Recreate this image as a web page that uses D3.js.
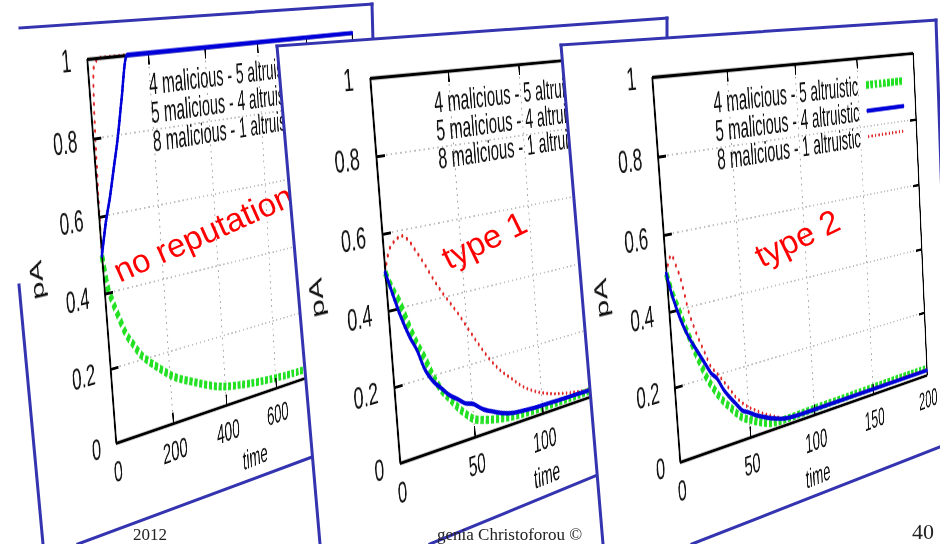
<!DOCTYPE html>
<html>
<head>
<meta charset="utf-8">
<script src="https://cdn.jsdelivr.net/npm/d3@7"></script>
<style>
html, body { margin: 0; padding: 0; background: #fff; }
#page { position: relative; width: 940px; height: 544px; overflow: hidden; background: #fff; }
.layer { position: absolute; left: 0; top: 0; }
.warp { position: absolute; left: 0; top: 0; transform-origin: 0 0; }
</style>
</head>
<body>
<div id="page"></div>
<script>
// ---- data ----
const yTicks = [0, 0.2, 0.4, 0.6, 0.8, 1];
const yTickLabels = ["0", "0.2", "0.4", "0.6", "0.8", "1"];
const legendLabels = ["4 malicious - 5 altruistic", "5 malicious - 4 altruistic", "8 malicious - 1 altruistic"];
const panelTitles = ["no reputation", "type 1", "type 2"];
const footerTexts = ["2012", "genia Christoforou ©", "40"];

// no reputation
const noRepTicks = [0, 200, 400, 600, 800, 1000];
const noRepTime  = [0, 5, 10, 20, 40, 60, 80, 100, 130, 155, 210, 285, 375, 475, 600, 700, 800, 900, 1000];
const noRepGreen = [0.5, 0.46, 0.42, 0.385, 0.33, 0.28, 0.25, 0.22, 0.19, 0.17, 0.13, 0.095, 0.06, 0.042, 0.03, 0.026, 0.025, 0.025, 0.025];
const noRepBlue  = [0.5, 0.52, 0.54, 0.58, 0.645, 0.72, 0.795, 0.885, 1, 1, 1, 1, 1, 1, 1, 1, 1, 1, 1];
const noRepRed   = [0.5, 0.72, 0.86, 0.98, 1, 1, 1, 1, 1, 1, 1, 1, 1, 1, 1, 1, 1, 1, 1];

// type 1
const type1Ticks = [0, 50, 100, 150, 200];
const type1Time  = [0, 3, 7, 12, 16, 20, 25, 30, 35, 40, 45, 50, 57, 64, 70, 78, 85, 94, 100, 111, 125, 139, 160, 180, 200];
const type1Green = [0.5, 0.46, 0.42, 0.35, 0.30, 0.26, 0.20, 0.155, 0.125, 0.095, 0.07, 0.05, 0.038, 0.03, 0.025, 0.02, 0.018, 0.017, 0.017, 0.017, 0.017, 0.018, 0.018, 0.019, 0.02];
const type1Blue  = [0.5, 0.45, 0.385, 0.32, 0.28, 0.225, 0.185, 0.16, 0.135, 0.118, 0.100, 0.092, 0.068, 0.052, 0.04, 0.03, 0.027, 0.024, 0.023, 0.022, 0.021, 0.02, 0.02, 0.02, 0.02];
const type1Red   = [0.5, 0.55, 0.575, 0.585, 0.57, 0.54, 0.50, 0.455, 0.415, 0.38, 0.345, 0.305, 0.25, 0.20, 0.165, 0.13, 0.10, 0.073, 0.06, 0.043, 0.03, 0.022, 0.02, 0.02, 0.02];

// type 2
const type2Ticks = [0, 50, 100, 150, 200];
const type2Time  = [0, 2, 4, 7, 9, 13, 16, 19, 22, 25, 29, 33, 36, 42, 45, 50, 55, 60, 65, 70, 75, 80, 90, 100, 120, 140, 160, 180, 200];
const type2Green = [0.5, 0.46, 0.43, 0.39, 0.36, 0.31, 0.27, 0.235, 0.20, 0.175, 0.145, 0.12, 0.105, 0.075, 0.062, 0.05, 0.038, 0.028, 0.02, 0.017, 0.016, 0.016, 0.017, 0.018, 0.019, 0.02, 0.021, 0.022, 0.022];
const type2Blue  = [0.5, 0.455, 0.42, 0.375, 0.35, 0.31, 0.285, 0.26, 0.235, 0.21, 0.19, 0.155, 0.135, 0.10, 0.083, 0.07, 0.056, 0.045, 0.035, 0.027, 0.02, 0.017, 0.015, 0.015, 0.015, 0.015, 0.015, 0.015, 0.015];
const type2Red   = [0.5, 0.53, 0.545, 0.51, 0.48, 0.385, 0.34, 0.30, 0.265, 0.23, 0.205, 0.18, 0.16, 0.12, 0.105, 0.085, 0.07, 0.055, 0.043, 0.032, 0.022, 0.018, 0.016, 0.016, 0.016, 0.016, 0.017, 0.018, 0.018];

// ---- layout ----
const W = 600, H = 400;                       // flat plot size before warping
const M = {left: 170, top: 30, right: 30, bottom: 110};
const SW = W + M.left + M.right, SH = H + M.top + M.bottom;
const FONT = "'Liberation Sans', Arial, Helvetica, sans-serif";
const FRAME = "#3434b0";

// green, blue, red ; "under" = drawn below the plot border
const seriesStyle = [
    {color: "#22e022", width: 9, dash: "7,4", cap: "butt", under: true},
    {color: "#0000d8", width: 5, dash: null, cap: "round", under: false},
    {color: "#e02828", width: 4, dash: "0.1,9", cap: "round", under: true}
];

const panels = [
    {
        time: noRepTime, series: [noRepGreen, noRepBlue, noRepRed], ticks: noRepTicks, title: panelTitles[0],
        quad: [[87, 59], [352, 33], [366, 357], [116, 443]],
        fill: [[20, 28], [372, 4], [385, 445], [78, 544], [20, 544]],
        edges: [[[20, 28], [372, 4]], [[372, 4], [373, 42]], [[19, 285], [43, 544]], [[78, 544], [312, 457]]],
        titleAt: [203, 233, -24], footerAt: [133, 540, 17]
    },
    {
        time: type1Time, series: [type1Green, type1Blue, type1Red], ticks: type1Ticks, title: panelTitles[1],
        quad: [[370, 78], [641, 53], [661, 372], [400, 463]],
        fill: [[277, 46], [667, 18], [672, 450], [597, 475], [430, 544], [321, 544]],
        edges: [[[277, 46], [667, 18]], [[667, 18], [667, 40]], [[277, 46], [320, 544]], [[430, 544], [600, 474]]],
        titleAt: [484, 240, -26], footerAt: [437, 540, 17]
    },
    {
        time: type2Time, series: [type2Green, type2Blue, type2Red], ticks: type2Ticks, title: panelTitles[2],
        quad: [[652, 77], [913, 53], [927, 375], [680, 462]],
        fill: [[561, 45], [936, 20], [940, 20], [940, 447], [692, 544], [603, 544]],
        edges: [[[561, 45], [936, 20]], [[936, 20], [942, 200]], [[561, 45], [603, 544]], [[692, 544], [942, 446]]],
        titleAt: [797, 238, -26], footerAt: [912, 539, 22]
    }
];

// solve the 8 unknowns of the projective map src -> dst
function solveHomography(src, dst) {
    var A = [], B = [];
    for (var i = 0; i < 4; i++) {
        var x = src[i][0], y = src[i][1], u = dst[i][0], v = dst[i][1];
        A.push([x, y, 1, 0, 0, 0, -u * x, -u * y]); B.push(u);
        A.push([0, 0, 0, x, y, 1, -v * x, -v * y]); B.push(v);
    }
    for (var c = 0; c < 8; c++) {
        var p = c;
        for (var r = c + 1; r < 8; r++) if (Math.abs(A[r][c]) > Math.abs(A[p][c])) p = r;
        var tA = A[c]; A[c] = A[p]; A[p] = tA;
        var tB = B[c]; B[c] = B[p]; B[p] = tB;
        for (var r2 = 0; r2 < 8; r2++) {
            if (r2 === c) continue;
            var f = A[r2][c] / A[c][c];
            for (var k = c; k < 8; k++) A[r2][k] -= f * A[c][k];
            B[r2] -= f * B[c];
        }
    }
    return B.map(function(b, i) { return b / A[i][i]; });
}

function matrix3d(h) {
    // a b c / d e f / g h 1  ->  column-major 4x4
    return "matrix3d(" + [h[0], h[3], 0, h[6], h[1], h[4], 0, h[7], 0, 0, 1, 0, h[2], h[5], 0, 1].join(",") + ")";
}

const page = d3.select("#page");

function drawFrame(p) {
    var fr = page.append("svg").attr("class", "layer").attr("width", 940).attr("height", 544);
    fr.append("polygon")
        .attr("points", p.fill.map(function(d) { return d.join(","); }).join(" "))
        .attr("fill", "#fff");
    fr.selectAll("line").data(p.edges).join("line")
        .attr("x1", function(d) { return d[0][0]; }).attr("y1", function(d) { return d[0][1]; })
        .attr("x2", function(d) { return d[1][0]; }).attr("y2", function(d) { return d[1][1]; })
        .attr("stroke", FRAME).attr("stroke-width", 3).attr("stroke-linecap", "square");
}

function drawSeries(g, p, x, y, under) {
    var line = d3.line().curve(d3.curveMonotoneX);
    p.series.forEach(function(vals, k) {
        var s = seriesStyle[k];
        if (s.under !== under) return;
        var pts = p.time.map(function(t, i) { return [x(t), y(vals[i])]; });
        g.append("path").attr("d", line(pts)).attr("fill", "none")
            .attr("stroke", s.color).attr("stroke-width", s.width)
            .attr("stroke-dasharray", s.dash).attr("stroke-linecap", s.cap)
            .attr("stroke-linejoin", "round");
    });
}

function drawChart(p) {
    var src = [[M.left, M.top], [M.left + W, M.top], [M.left + W, M.top + H], [M.left, M.top + H]];
    var h = solveHomography(src, p.quad);
    var holder = page.append("div").attr("class", "warp")
        .style("width", SW + "px").style("height", SH + "px")
        .style("transform", matrix3d(h));
    var svg = holder.append("svg").attr("width", SW).attr("height", SH);
    var g = svg.append("g").attr("transform", "translate(" + M.left + "," + M.top + ")")
        .attr("font-family", FONT);

    var x = d3.scaleLinear().domain([0, d3.max(p.ticks)]).range([0, W]);
    var y = d3.scaleLinear().domain([0, 1]).range([H, 0]);

    // grid
    var inner = p.ticks.slice(1, -1), innerY = yTicks.slice(1, -1);
    g.append("g").selectAll("line").data(inner).join("line")
        .attr("x1", function(d) { return x(d); }).attr("x2", function(d) { return x(d); })
        .attr("y1", 0).attr("y2", H)
        .attr("stroke", "#a8a8a8").attr("stroke-width", 2.2).attr("stroke-dasharray", "2,5");
    g.append("g").selectAll("line").data(innerY).join("line")
        .attr("y1", function(d) { return y(d); }).attr("y2", function(d) { return y(d); })
        .attr("x1", 0).attr("x2", W)
        .attr("stroke", "#a8a8a8").attr("stroke-width", 1.6).attr("stroke-dasharray", "3,6");

    drawSeries(g, p, x, y, true);

    // axes on four sides, ticks inward
    var axL = g.append("g").call(d3.axisLeft(y).tickValues(yTicks)
        .tickFormat(function(d, i) { return yTickLabels[i]; })
        .tickSize(-16).tickSizeOuter(0).tickPadding(30));
    var axB = g.append("g").attr("transform", "translate(0," + H + ")")
        .call(d3.axisBottom(x).tickValues(p.ticks).tickFormat(d3.format("d"))
        .tickSize(-12).tickSizeOuter(0).tickPadding(19));
    var axT = g.append("g").call(d3.axisTop(x).tickValues(p.ticks).tickFormat("")
        .tickSize(-12).tickSizeOuter(0));
    var axR = g.append("g").attr("transform", "translate(" + W + ",0)")
        .call(d3.axisRight(y).tickValues(yTicks).tickFormat("")
        .tickSize(-16).tickSizeOuter(0));
    [axL, axB, axT, axR].forEach(function(a) {
        a.attr("font-family", FONT).attr("font-size", 32);
        a.select(".domain").attr("stroke", "#000").attr("stroke-width", 3.5);
        a.selectAll(".tick line").attr("stroke", "#000").attr("stroke-width", 3);
        a.selectAll("text").attr("fill", "#111");
    });

    drawSeries(g, p, x, y, false);

    g.append("text").attr("transform", "translate(-124,210) rotate(-90)")
        .attr("text-anchor", "middle").attr("dy", "0.35em")
        .attr("font-size", 32).attr("fill", "#111").text("pA");
    g.append("text").attr("x", W / 2).attr("y", H + 83)
        .attr("text-anchor", "middle").attr("font-size", 32).attr("fill", "#111").text("time");

    // legend
    var rows = [32, 62, 92];
    legendLabels.forEach(function(lbl, k) {
        var s = seriesStyle[k];
        g.append("text").attr("x", 450).attr("y", rows[k]).attr("dy", "0.35em")
            .attr("text-anchor", "end").attr("font-size", 32).attr("fill", "#111").text(lbl);
        g.append("line").attr("x1", 471).attr("x2", 567).attr("y1", rows[k]).attr("y2", rows[k])
            .attr("stroke", s.color).attr("stroke-width", s.width)
            .attr("stroke-dasharray", s.dash).attr("stroke-linecap", s.cap);
    });
}

function drawTitle(p) {
    var ann = page.append("svg").attr("class", "layer").attr("width", 940).attr("height", 544);
    ann.append("text")
        .attr("transform", "translate(" + p.titleAt[0] + "," + p.titleAt[1] + ") rotate(" + p.titleAt[2] + ")")
        .attr("text-anchor", "middle").attr("dy", "0.35em")
        .attr("font-family", FONT).attr("font-size", 33).attr("fill", "#ff0000")
        .text(p.title);
}

function drawFooter(p, i) {
    var ft = page.append("svg").attr("class", "layer").attr("width", 940).attr("height", 544);
    ft.append("text").attr("x", p.footerAt[0]).attr("y", p.footerAt[1])
        .attr("font-family", "'Liberation Serif', 'Times New Roman', serif")
        .attr("font-size", p.footerAt[2]).attr("fill", "#222")
        .text(footerTexts[i]);
}

panels.forEach(function(p, i) {
    drawFrame(p);
    drawChart(p);
    drawTitle(p);
    drawFooter(p, i);
});
</script>
</body>
</html>
